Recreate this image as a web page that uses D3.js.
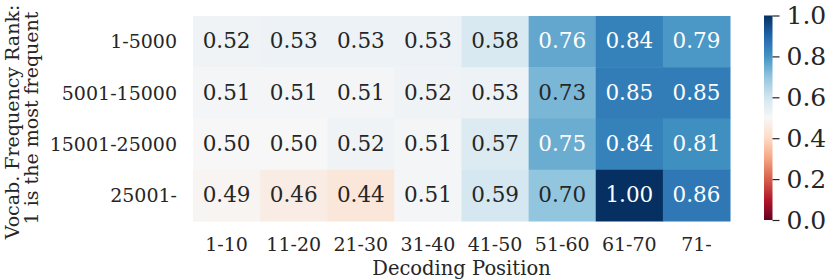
<!DOCTYPE html>
<html>
<head>
<meta charset="utf-8">
<script src="https://cdn.jsdelivr.net/npm/d3@7"></script>
<style>
  body { margin: 0; background: #fff; }
  text { font-family: "DejaVu Serif", serif; fill: #262626; }
</style>
</head>
<body>
<div id="chart"></div>
<script>
// data
var rowLabels = ["1-5000", "5001-15000", "15001-25000", "25001-"];
var colLabels = ["1-10", "11-20", "21-30", "31-40", "41-50", "51-60", "61-70", "71-"];
var row1 = [0.52, 0.53, 0.53, 0.53, 0.58, 0.76, 0.84, 0.79];
var row2 = [0.51, 0.51, 0.51, 0.52, 0.53, 0.73, 0.85, 0.85];
var row3 = [0.50, 0.50, 0.52, 0.51, 0.57, 0.75, 0.84, 0.81];
var row4 = [0.49, 0.46, 0.44, 0.51, 0.59, 0.70, 1.00, 0.86];
var colorTicks = [0, 0.2, 0.4, 0.6, 0.8, 1.0];

var rows = [row1, row2, row3, row4];

// matplotlib RdBu (linear between the brewer stops)
var rdbu = ["#67001f", "#b2182b", "#d6604d", "#f4a582", "#fddbc7", "#f7f7f7",
            "#d1e5f0", "#92c5de", "#4393c3", "#2166ac", "#053061"];

var width = 830, height = 280;

var svg = d3.select("#chart")
	.append("svg")
	.attr("width", width)
	.attr("height", height);

var x = d3.scaleBand().domain(colLabels).range([193, 730]);
var y = d3.scaleBand().domain(rowLabels).range([16, 221]);

var color = d3.scaleLinear()
	.domain(rdbu.map(function(d, i) { return i / (rdbu.length - 1); }))
	.range(rdbu)
	.interpolate(d3.interpolateRgb)
	.clamp(true);

// seaborn picks annotation colour from luminance
function luminance(c) {
	var rgb = d3.rgb(c);
	var ch = [rgb.r, rgb.g, rgb.b].map(function(v) {
		v = v / 255;
		return v <= 0.03928 ? v / 12.92 : Math.pow((v + 0.055) / 1.055, 2.4);
	});
	return 0.2126 * ch[0] + 0.7152 * ch[1] + 0.0722 * ch[2];
}

var cells = [];
rows.forEach(function(r, i) {
	r.forEach(function(v, j) {
		cells.push({ row: rowLabels[i], col: colLabels[j], value: v });
	});
});

var cell = svg.selectAll("g.cell")
	.data(cells)
	.enter().append("g")
	.attr("class", "cell");

cell.append("rect")
	.attr("x", function(d) { return x(d.col); })
	.attr("y", function(d) { return y(d.row); })
	.attr("width", x.bandwidth() + 0.5)
	.attr("height", y.bandwidth() + 0.5)
	.attr("fill", function(d) { return color(d.value); });

cell.append("text")
	.attr("x", function(d) { return x(d.col) + x.bandwidth() / 2; })
	.attr("y", function(d) { return y(d.row) + y.bandwidth() / 2 - 1; })
	.attr("dy", "0.36em")
	.attr("text-anchor", "middle")
	.style("font-size", "21.5px")
	.style("fill", function(d) { return luminance(color(d.value)) > 0.408 ? "#262626" : "#ffffff"; })
	.text(function(d) { return d3.format(".2f")(d.value); });

// row tick labels
svg.selectAll("text.ylab")
	.data(rowLabels)
	.enter().append("text")
	.attr("class", "ylab")
	.attr("x", 177)
	.attr("y", function(d) { return y(d) + y.bandwidth() / 2; })
	.attr("dy", "0.36em")
	.attr("text-anchor", "end")
	.style("font-size", "19px")
	.text(function(d) { return d; });

// column tick labels
svg.selectAll("text.xlab")
	.data(colLabels)
	.enter().append("text")
	.attr("class", "xlab")
	.attr("x", function(d) { return x(d) + x.bandwidth() / 2; })
	.attr("y", 251)
	.attr("text-anchor", "middle")
	.style("font-size", "19px")
	.text(function(d) { return d; });

// axis titles
svg.append("text")
	.attr("x", (x.range()[0] + x.range()[1]) / 2)
	.attr("y", 275)
	.attr("text-anchor", "middle")
	.style("font-size", "19.5px")
	.text("Decoding Position");

var ytitle = svg.append("text")
	.attr("transform", "translate(0,122) rotate(-90)")
	.attr("text-anchor", "middle")
	.style("font-size", "19px");
ytitle.append("tspan").attr("x", 0).attr("y", 19).text("Vocab. Frequency Rank:");
ytitle.append("tspan").attr("x", 4).attr("y", 38).text("1 is the most frequent");

// colour bar
var cb = d3.scaleLinear().domain([0, 1]).range([220, 15.5]);

var grad = svg.append("defs").append("linearGradient")
	.attr("id", "cbgrad")
	.attr("x1", 0).attr("y1", 1).attr("x2", 0).attr("y2", 0);
grad.selectAll("stop")
	.data(d3.range(0, 1.0001, 0.02))
	.enter().append("stop")
	.attr("offset", function(d) { return d; })
	.attr("stop-color", function(d) { return color(d); });

svg.append("rect")
	.attr("x", 764)
	.attr("y", cb(1))
	.attr("width", 8.5)
	.attr("height", cb(0) - cb(1))
	.attr("fill", "url(#cbgrad)");

var cbAxis = svg.append("g")
	.attr("transform", "translate(772.5,0)")
	.call(d3.axisRight(cb).tickValues(colorTicks).tickSize(7).tickPadding(7).tickFormat(d3.format(".1f")));
cbAxis.select(".domain").remove();
cbAxis.selectAll("line").attr("stroke", "#262626").attr("stroke-width", 1.2);
cbAxis.selectAll("text")
	.style("font-size", "25px")
	.style("font-family", "'DejaVu Serif', serif")
	.attr("fill", "#262626");
</script>
</body>
</html>
